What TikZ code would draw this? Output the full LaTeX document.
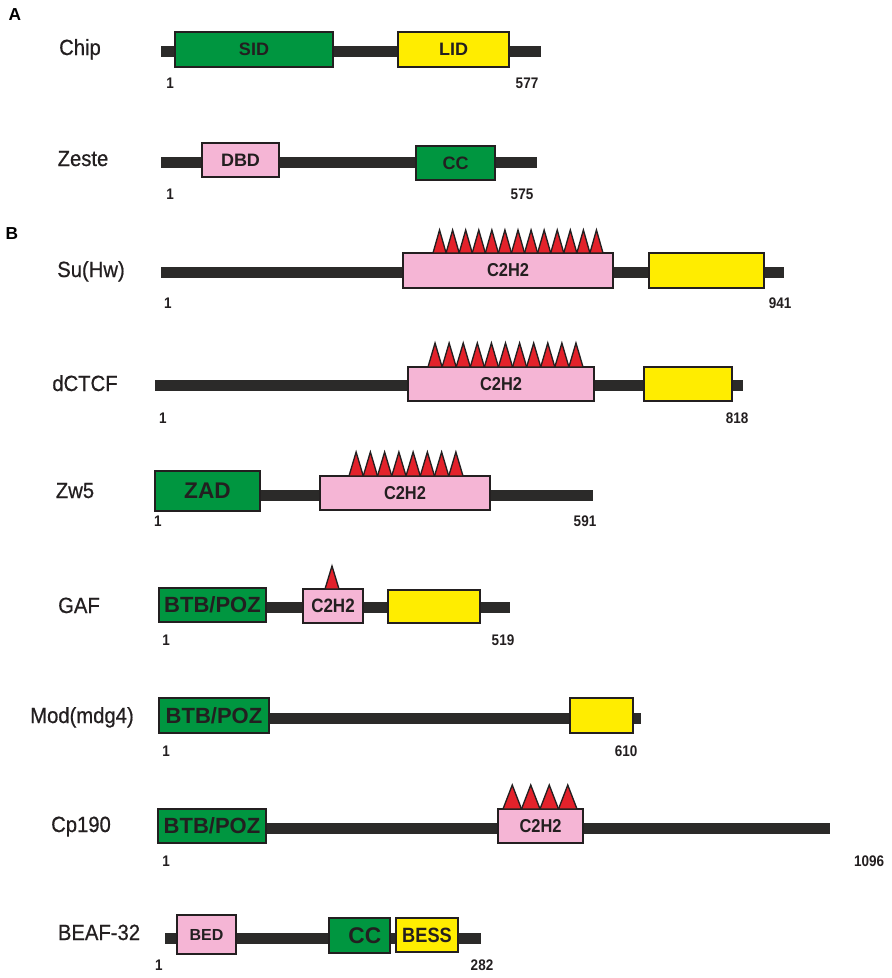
\documentclass[tikz,border=0pt]{standalone}
\usepackage{fontspec}
\setmainfont{Liberation Sans}
\newfontfamily\lblfont{Liberation Sans}[FakeStretch=0.92,FakeBold=0.6]
\newfontfamily\nrwfont{Liberation Sans}[FakeStretch=0.88]
\definecolor{dk}{HTML}{231F20}
\definecolor{gr}{HTML}{009640}
\definecolor{yl}{HTML}{FFED00}
\definecolor{pk}{HTML}{F5B5D5}
\definecolor{rd}{HTML}{E3222B}
\definecolor{barc}{HTML}{2B2A29}
% name, x1, y1, x2, y2, fill, font, text
\newcommand\dom[8]{%
  \pgfmathsetmacro\dw{(#4-#2)*0.75}%
  \pgfmathsetmacro\dh{(#5-#3)*0.75}%
  \node[dombox, fill=#6, minimum width=\dw pt, minimum height=\dh pt, font=#7]
    (#1) at ({(#2+#4)/2},{(#3+#5)/2}) {#8};}
% x1, x2, ytop, ybase, n
\newcommand\tris[5]{%
  \pgfmathsetmacro\tw{(#2-#1)/#5}%
  \foreach \i in {1,...,#5}{%
    \draw[tri] ({#1+(\i-1)*\tw},#4) -- ({#1+(\i-0.5)*\tw},#3) -- ({#1+\i*\tw},#4) -- cycle;}}
\newcommand\fs[1]{\fontsize{#1}{#1}\selectfont}
\begin{document}
\begin{tikzpicture}[x=0.75pt,y=-0.75pt,
  lbl/.style={anchor=base, inner sep=0, text=dk, font=\lblfont\fs{16.5pt}},
  num/.style={anchor=base, inner sep=0, text=dk, font=\nrwfont\bfseries\fs{11.5pt}},
  sec/.style={anchor=base, inner sep=0, text=black, font=\bfseries\fs{13pt}},
  dombox/.style={draw=dk, line width=1.5pt, inner sep=0, text=dk},
  bar/.style={draw=barc, line width=8.25pt},
  tri/.style={fill=rd, draw=dk, line width=1pt, line join=miter}]
\useasboundingbox (0,0) rectangle (892,978);
\fill[white] (0,0) rectangle (892,978);

% ---------------- A ----------------
\node[sec] (secA) at (15,21) {A};

% Chip
\node[lbl] (chipL) at (80,55) {Chip};
\coordinate (chipS) at (161,51); \coordinate (chipE) at (541,51);
\draw[bar] (chipS) -- (chipE);
\dom{sid}{175}{32}{333}{67}{gr}{\bfseries\fs{13.5pt}}{SID}
\dom{lid}{398}{32}{509}{67}{yl}{\bfseries\fs{13.5pt}}{LID}
\node[num] (chip1) at (170,88) {1};
\node[num] (chip2) at (527,88) {577};

% Zeste
\node[lbl] (zesteL) at (83,166) {Zeste};
\coordinate (zesteS) at (161,162.5); \coordinate (zesteE) at (537,162.5);
\draw[bar] (zesteS) -- (zesteE);
\dom{dbd}{202}{143}{279}{177}{pk}{\bfseries\fs{13.5pt}}{DBD}
\dom{zcc}{416}{146}{495}{180}{gr}{\bfseries\fs{13.5pt}}{CC}
\node[num] (zeste1) at (170,199) {1};
\node[num] (zeste2) at (522,199) {575};

% ---------------- B ----------------
\node[sec] (secB) at (12,239) {B};

% Su(Hw)
\node[lbl] (suhwL) at (91,277) {Su(Hw)};
\coordinate (suhwS) at (161,272.5); \coordinate (suhwE) at (784,272.5);
\draw[bar] (suhwS) -- (suhwE);
\dom{suc}{403}{253}{613}{288}{pk}{\nrwfont\bfseries\fs{14pt}}{C2H2}
\dom{suy}{649}{253}{764}{288}{yl}{}{}
\tris{433}{603}{230}{253}{13}
\node[num] (suhw1) at (168,308) {1};
\node[num] (suhw2) at (780,308) {941};

% dCTCF
\node[lbl] (ctcfL) at (85,391) {dCTCF};
\coordinate (ctcfS) at (155,385.5); \coordinate (ctcfE) at (743,385.5);
\draw[bar] (ctcfS) -- (ctcfE);
\dom{ctc}{408}{367}{594}{401}{pk}{\nrwfont\bfseries\fs{14pt}}{C2H2}
\dom{cty}{644}{367}{732}{401}{yl}{}{}
\tris{428}{583}{343}{367}{11}
\node[num] (ctcf1) at (163,423) {1};
\node[num] (ctcf2) at (737,423) {818};

% Zw5
\node[lbl] (zw5L) at (75,498) {Zw5};
\coordinate (zw5S) at (260,495.5); \coordinate (zw5E) at (593,495.5);
\draw[bar] (zw5S) -- (zw5E);
\dom{zad}{155}{471}{260}{511}{gr}{\bfseries\fs{17pt}}{ZAD}
\dom{zwc}{320}{476}{490}{510}{pk}{\nrwfont\bfseries\fs{14pt}}{C2H2}
\tris{349}{463}{452}{476}{8}
\node[num] (zw51) at (158,526) {1};
\node[num] (zw52) at (585,526) {591};

% GAF
\node[lbl] (gafL) at (79,613) {GAF};
\coordinate (gafS) at (266,607); \coordinate (gafE) at (510,607);
\draw[bar] (gafS) -- (gafE);
\dom{gbtb}{159}{588}{266}{622}{gr}{\bfseries\fs{16.5pt}}{BTB/POZ}
\dom{gc}{303}{589}{363}{623}{pk}{\nrwfont\bfseries\fs{14.5pt}}{C2H2}
\dom{gy}{388}{590}{480}{623}{yl}{}{}
\tris{325}{339}{566}{589}{1}
\node[num] (gaf1) at (166,645) {1};
\node[num] (gaf2) at (503,645) {519};

% Mod(mdg4)
\node[lbl] (modL) at (82,723) {Mod(mdg4)};
\coordinate (modS) at (269,718); \coordinate (modE) at (641,718);
\draw[bar] (modS) -- (modE);
\dom{mbtb}{159}{698}{269}{733}{gr}{\bfseries\fs{16.5pt}}{BTB/POZ}
\dom{my}{570}{698}{633}{733}{yl}{}{}
\node[num] (mod1) at (166,756) {1};
\node[num] (mod2) at (626,756) {610};

% Cp190
\node[lbl] (cpL) at (81,832) {Cp190};
\coordinate (cpS) at (266,828.5); \coordinate (cpE) at (830,828.5);
\draw[bar] (cpS) -- (cpE);
\dom{cbtb}{158}{809}{266}{843}{gr}{\bfseries\fs{16.5pt}}{BTB/POZ}
\dom{cc2}{498}{809}{583}{843}{pk}{\nrwfont\bfseries\fs{14pt}}{C2H2}
\tris{503}{577}{785}{809}{4}
\node[num] (cp1) at (166,866) {1};
\node[num] (cp2) at (869,866) {1096};

% BEAF-32
\node[lbl] (beafL) at (99,940) {BEAF-32};
\coordinate (beafS) at (165,938.5); \coordinate (beafE) at (481,938.5);
\draw[bar] (beafS) -- (beafE);
\dom{bed}{177}{915}{236}{954}{pk}{\bfseries\fs{12pt}}{BED}
\dom{bcc}{329}{918}{390}{953}{gr}{\bfseries\fs{17pt}}{\hspace{8pt}CC}
\dom{bess}{396}{918}{458}{952}{yl}{\nrwfont\bfseries\fs{15.5pt}}{BESS}
\node[num] (beaf1) at (159,970) {1};
\node[num] (beaf2) at (482,970) {282};
\end{tikzpicture}
\end{document}
